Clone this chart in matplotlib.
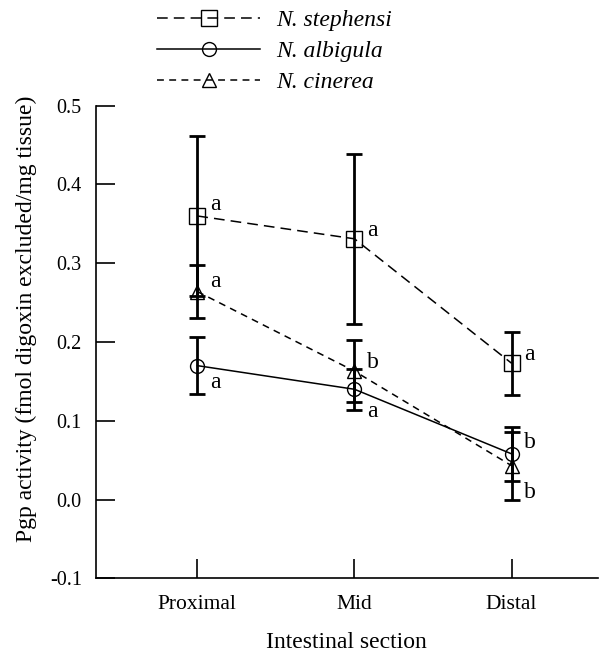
import matplotlib
matplotlib.use("Agg")
import matplotlib.pyplot as plt
import numpy as np

plt.rcParams['font.family'] = ['Liberation Serif', 'DejaVu Serif']

sections = ["Proximal", "Mid", "Distal"]
species = ["N. stephensi", "N. albigula", "N. cinerea"]

stephensi_mean = [0.360, 0.331, 0.173]
stephensi_err = [0.101, 0.108, 0.040]
albigula_mean = [0.170, 0.140, 0.058]
albigula_err = [0.036, 0.026, 0.034]
cinerea_mean = [0.264, 0.163, 0.043]
cinerea_err = [0.034, 0.039, 0.043]

stephensi_letters = ["a", "a", "a"]
albigula_letters = ["a", "a", "b"]
cinerea_letters = ["a", "b", "b"]

yticks = [-0.1, 0.0, 0.1, 0.2, 0.3, 0.4, 0.5]
ytick_labels = ["-0.1", "0.0", "0.1", "0.2", "0.3", "0.4", "0.5"]

fig = plt.figure(figsize=(6.0, 6.52), dpi=100)
ax = fig.add_axes([0.1595, 0.113, 0.8372, 0.7249])

x = np.arange(1, len(sections) + 1)

styles = [
    dict(marker='s', ls=(0, (7, 4)), ms=11),
    dict(marker='o', ls='-', ms=10),
    dict(marker='^', ls=(0, (4.5, 3.5)), ms=10),
]
means = [stephensi_mean, albigula_mean, cinerea_mean]
errs = [stephensi_err, albigula_err, cinerea_err]
letters = [stephensi_letters, albigula_letters, cinerea_letters]
# vertical offsets (points) for the significance letters
letter_dy = [
    [8, 6, 6],
    [-12, -16, 8],
    [7, 6, -19],
]

handles = []
for i, sp in enumerate(species):
    ax.errorbar(x, means[i], yerr=errs[i], fmt='none', ecolor='black',
                elinewidth=2.0, capsize=6, capthick=2.0, zorder=2)
    h, = ax.plot(x, means[i], color='black', lw=1.1, linestyle=styles[i]['ls'],
                 marker=styles[i]['marker'], ms=styles[i]['ms'], mfc='none',
                 mec='black', mew=1.0, label=sp, zorder=3)
    handles.append(h)
    for j in range(len(x)):
        ax.annotate(letters[i][j], (x[j], means[i][j]), xytext=(9, letter_dy[i][j]),
                    textcoords='offset points', ha='left', va='center', fontsize=17)

ax.set_xlim(0.353, 3.55)
ax.set_ylim(-0.1, 0.5)
ax.set_xticks(x)
ax.set_xticklabels(sections)
ax.set_yticks(yticks)
ax.set_yticklabels(ytick_labels)
ax.tick_params(axis='both', direction='in', length=14, width=1.2)
ax.tick_params(axis='x', pad=12, labelsize=15.5)
ax.tick_params(axis='y', pad=10, labelsize=14.5)
for s in ['top', 'right']:
    ax.spines[s].set_visible(False)
for s in ['left', 'bottom']:
    ax.spines[s].set_linewidth(1.2)

ax.set_xlabel("Intestinal section", fontsize=17, labelpad=13)
ax.set_ylabel("Pgp activity (fmol digoxin excluded/mg tissue)", fontsize=17)
ax.yaxis.set_label_coords(-0.117, 0.55)

leg = fig.legend(handles=handles, loc='upper left', bbox_to_anchor=(0.227, 1.018),
                 frameon=False, handlelength=4.36, handletextpad=0.65,
                 labelspacing=0.4, prop={'style': 'italic', 'size': 17})

fig.savefig("out.png", dpi=100)
